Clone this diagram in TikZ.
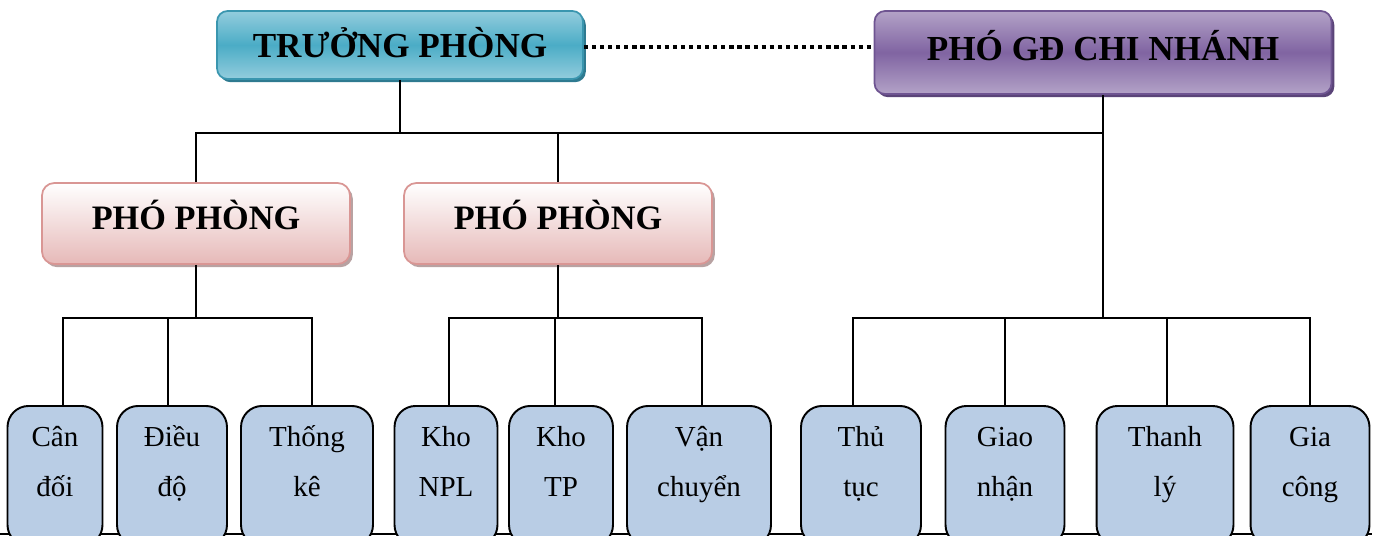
\documentclass[tikz,border=0pt]{standalone}
\usepackage{fontspec}
\setmainfont{Liberation Serif}
\usetikzlibrary{shadows}

\definecolor{tealL}{HTML}{93CDDD}
\definecolor{tealD}{HTML}{4BACC6}
\definecolor{tealE}{HTML}{3A96AF}
\definecolor{tealS}{HTML}{2E7A90}
\definecolor{violL}{HTML}{B3A2C7}
\definecolor{violD}{HTML}{8064A2}
\definecolor{violE}{HTML}{6E5491}
\definecolor{violS}{HTML}{5A4478}
\definecolor{roseL}{HTML}{E6B9B8}
\definecolor{roseE}{HTML}{D99694}
\definecolor{roseS}{HTML}{B8A2A2}
\definecolor{unitF}{HTML}{B9CDE5}

% two stacked words, baseline on the first one
\newcommand{\twoline}[2]{\begin{tabular}[t]{@{}c@{}}#1\\#2\end{tabular}}

\tikzset{
  head/.style={draw, line width=1pt, rounded corners=6pt,
    font=\bfseries\fontsize{20}{24}\selectfont},
  chief/.style={head, draw=tealE, top color=tealL, bottom color=tealL, middle color=tealD,
    text depth=3pt,
    drop shadow={shadow xshift=1.6pt, shadow yshift=-1.8pt, fill=tealS, opacity=1}},
  branch/.style={head, draw=violE, top color=violL, bottom color=violL, middle color=violD,
    text depth=8.5pt,
    drop shadow={shadow xshift=1.6pt, shadow yshift=-1.8pt, fill=violS, opacity=1}},
  deputy/.style={head, draw=roseE, rounded corners=7pt, top color=white, bottom color=roseL,
    minimum width=6.16cm, minimum height=1.62cm, text depth=10pt,
    font=\bfseries\fontsize{19.5}{24}\selectfont,
    drop shadow={shadow xshift=1.6pt, shadow yshift=-1.8pt, fill=roseS, opacity=1}},
  unit/.style={draw, line width=1.1pt, fill=unitF, rounded corners=12pt, anchor=north,
    inner xsep=0pt, inner ysep=0pt, text height=23.3pt, text depth=56.4pt,
    font=\fontsize{16.5}{28.5}\selectfont},
  link/.style={line width=1.1pt}
}

\begin{document}
\begin{tikzpicture}[x=0.02cm,y=-0.02cm]
\path[use as bounding box] (0,0) rectangle (1381,535);
\clip (0,0) rectangle (1381,535);

% rule along the lower edge, under the boxes
\draw[line width=1pt] (0,534) -- (1372,534);

% heads
\node[chief, minimum width=7.32cm, minimum height=1.36cm] (tp) at (400,45) {TRƯỞNG PHÒNG};
\node[branch, minimum width=9.14cm, minimum height=1.66cm] (pgd) at (1103,52.5) {PHÓ GĐ CHI NHÁNH};
\node[deputy] (pp1) at (196,223.5) {PHÓ PHÒNG};
\node[deputy] (pp2) at (558,223.5) {PHÓ PHÒNG};

% units
\node[unit, minimum width=1.90cm] (cd) at (55,405) {\twoline{Cân}{đối}};
\node[unit, minimum width=2.20cm] (dd) at (172,405) {\twoline{Điều}{độ}};
\node[unit, minimum width=2.64cm] (tk) at (307,405) {\twoline{Thống}{kê}};
\node[unit, minimum width=2.06cm] (npl) at (446,405) {\twoline{Kho}{NPL}};
\node[unit, minimum width=2.08cm] (ktp) at (561,405) {\twoline{Kho}{TP}};
\node[unit, minimum width=2.88cm] (vc) at (699,405) {\twoline{Vận}{chuyển}};
\node[unit, minimum width=2.40cm] (tt) at (861,405) {\twoline{Thủ}{tục}};
\node[unit, minimum width=2.38cm] (gn) at (1005,405) {\twoline{Giao}{nhận}};
\node[unit, minimum width=2.74cm] (tl) at (1165,405) {\twoline{Thanh}{lý}};
\node[unit, minimum width=2.38cm] (gc) at (1310,405) {\twoline{Gia}{công}};

\coordinate (tbus) at (0,133);
\coordinate (bbus) at (0,318);

% dotted tie between the two heads
\draw[line width=2.6pt, dash pattern=on 2.4pt off 2.2pt] ([yshift=-.04cm]tp.east) -- ([yshift=-.04cm]tp.east -| pgd.west);

% upper level
\draw[link] (tp.south) -- (tp.south |- tbus);
\draw[link] (pp1.north) |- (pgd.south |- tbus);
\draw[link] (pp2.north) -- (pp2.north |- tbus);
\draw[link] (pgd.south) -- (pgd.south |- bbus);
\draw[link] (pp1.south) -- (pp1.south |- bbus);
\draw[link] (pp2.south) -- (pp2.south |- bbus);

% lower level
\draw[link] ([xshift=.16cm]cd.north) |- ([xshift=.1cm]tk.north |- bbus) -- ([xshift=.1cm]tk.north);
\draw[link] ([xshift=.06cm]npl.north) |- ([xshift=.06cm]vc.north |- bbus) -- ([xshift=.06cm]vc.north);
\draw[link] ([xshift=-.16cm]tt.north) |- (gc.north |- bbus) -- (gc.north);
\foreach \n/\dx in {dd/-.08, ktp/-.12, gn/0, tl/.04}
  \draw[link] ([xshift=\dx cm]\n.north) -- ([xshift=\dx cm]\n.north |- bbus);
\end{tikzpicture}
\end{document}
